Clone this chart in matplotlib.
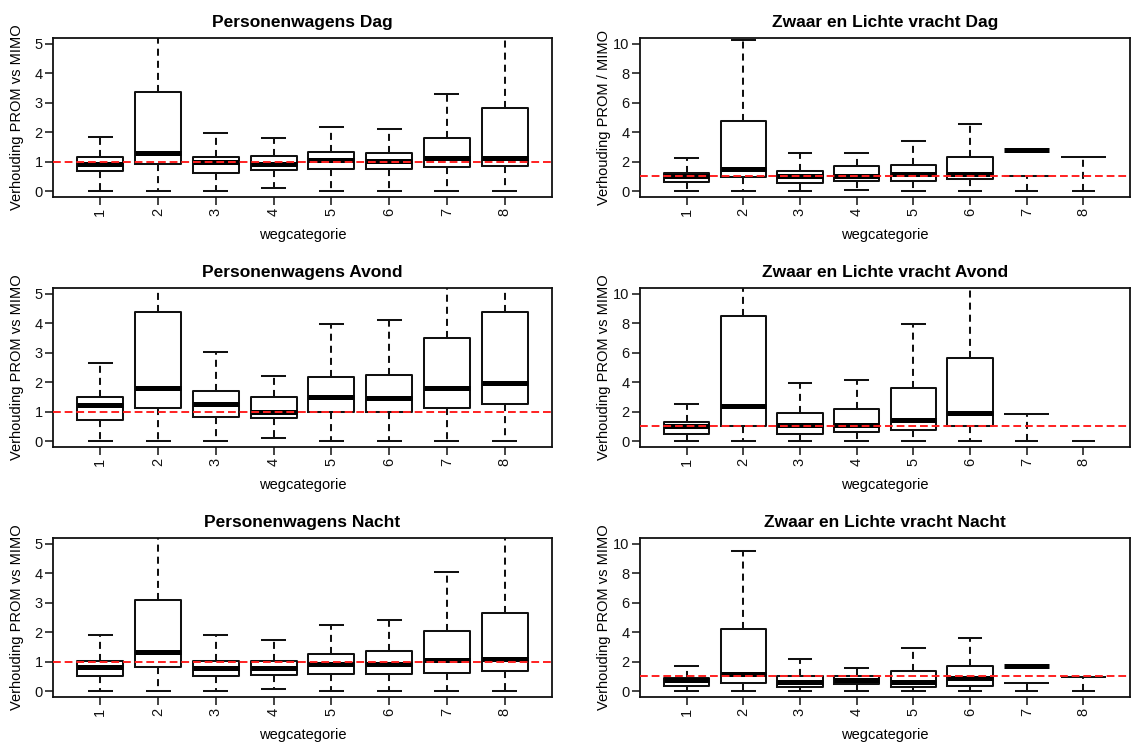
import numpy as np
import matplotlib
matplotlib.use("Agg")
import matplotlib.pyplot as plt

nan = np.nan
categories = ["1", "2", "3", "4", "5", "6", "7", "8"]

# ---- Personenwagens Dag ----
pw_dag_whislo = [0.00, 0.00, 0.00, 0.09, 0.00, 0.00, 0.00, 0.00]
pw_dag_q1     = [0.67, 0.93, 0.62, 0.71, 0.75, 0.75, 0.81, 0.84]
pw_dag_med    = [0.92, 1.29, 0.98, 0.92, 1.07, 1.01, 1.11, 1.13]
pw_dag_q3     = [1.16, 3.35, 1.16, 1.20, 1.34, 1.29, 1.79, 2.81]
pw_dag_whishi = [1.83, 6.50, 1.97, 1.79, 2.19, 2.10, 3.31, 6.00]

# ---- Zwaar en Lichte vracht Dag ----
zl_dag_whislo = [0.00, 0.00, 0.00, 0.09, 0.00, 0.00, 0.00, 0.00]
zl_dag_q1     = [0.61, 0.99, 0.54, 0.72, 0.72, 0.81, 1.04, 2.33]
zl_dag_med    = [1.01, 1.53, 1.01, 1.01, 1.19, 1.19, 2.78, nan]
zl_dag_q3     = [1.24, 4.76, 1.35, 1.71, 1.80, 2.34, nan, nan]
zl_dag_whishi = [2.25, 10.27, 2.61, 2.61, 3.39, 4.54, nan, nan]

# ---- Personenwagens Avond ----
pw_avond_whislo = [0.00, 0.00, 0.00, 0.09, 0.00, 0.00, 0.00, 0.00]
pw_avond_q1     = [0.71, 1.13, 0.82, 0.77, 1.00, 1.00, 1.13, 1.26]
pw_avond_med    = [1.22, 1.81, 1.27, 1.00, 1.50, 1.45, 1.81, 1.98]
pw_avond_q3     = [1.49, 4.37, 1.71, 1.49, 2.17, 2.24, 3.50, 4.37]
pw_avond_whishi = [2.66, 6.00, 3.03, 2.21, 3.97, 4.10, 6.00, 6.00]

# ---- Zwaar en Lichte vracht Avond ----
zl_avond_whislo = [0.00, 0.00, 0.00, 0.00, 0.00, 0.00, 0.00, 0.00]
zl_avond_q1     = [0.45, 1.00, 0.45, 0.63, 0.73, 1.00, 1.81, nan]
zl_avond_med    = [1.00, 2.36, 1.09, 1.09, 1.45, 1.90, nan, nan]
zl_avond_q3     = [1.27, 8.48, 1.90, 2.18, 3.61, 5.67, nan, nan]
zl_avond_whishi = [2.52, 12.0, 3.95, 4.15, 7.94, 12.0, nan, nan]

# ---- Personenwagens Nacht ----
pw_nacht_whislo = [0.00, 0.00, 0.00, 0.06, 0.00, 0.00, 0.00, 0.00]
pw_nacht_q1     = [0.50, 0.82, 0.50, 0.54, 0.58, 0.58, 0.62, 0.68]
pw_nacht_med    = [0.82, 1.32, 0.77, 0.77, 0.91, 0.91, 1.04, 1.09]
pw_nacht_q3     = [1.03, 3.11, 1.03, 1.03, 1.26, 1.35, 2.03, 2.66]
pw_nacht_whishi = [1.89, 6.00, 1.89, 1.72, 2.24, 2.43, 4.04, 6.00]

# ---- Zwaar en Lichte vracht Nacht ----
zl_nacht_whislo = [0.00, 0.00, 0.00, 0.00, 0.00, 0.00, 0.00, 0.00]
zl_nacht_q1     = [0.36, 0.54, 0.27, 0.45, 0.27, 0.36, 0.55, 0.93]
zl_nacht_med    = [0.73, 1.18, 0.63, 0.73, 0.63, 0.91, 1.73, nan]
zl_nacht_q3     = [0.91, 4.24, 1.00, 1.00, 1.36, 1.72, nan, nan]
zl_nacht_whishi = [1.72, 9.55, 2.18, 1.54, 2.90, 3.60, nan, nan]

panels = [
    ("Personenwagens Dag", "Verhouding PROM vs MIMO", 5,
     pw_dag_whislo, pw_dag_q1, pw_dag_med, pw_dag_q3, pw_dag_whishi),
    ("Zwaar en Lichte vracht Dag", "Verhouding PROM / MIMO", 10,
     zl_dag_whislo, zl_dag_q1, zl_dag_med, zl_dag_q3, zl_dag_whishi),
    ("Personenwagens Avond", "Verhouding PROM vs MIMO", 5,
     pw_avond_whislo, pw_avond_q1, pw_avond_med, pw_avond_q3, pw_avond_whishi),
    ("Zwaar en Lichte vracht Avond", "Verhouding PROM vs MIMO", 10,
     zl_avond_whislo, zl_avond_q1, zl_avond_med, zl_avond_q3, zl_avond_whishi),
    ("Personenwagens Nacht", "Verhouding PROM vs MIMO", 5,
     pw_nacht_whislo, pw_nacht_q1, pw_nacht_med, pw_nacht_q3, pw_nacht_whishi),
    ("Zwaar en Lichte vracht Nacht", "Verhouding PROM vs MIMO", 10,
     zl_nacht_whislo, zl_nacht_q1, zl_nacht_med, zl_nacht_q3, zl_nacht_whishi),
]

plt.rcParams['font.family'] = ['Liberation Sans', 'DejaVu Sans']

W, H = 1136, 742
fig = plt.figure(figsize=(W / 100, H / 100), dpi=100)

col_x = [(53, 552), (640, 1130)]
row_y = [(38, 197), (288, 447), (538, 697)]

LW = 1.45
dash_w = (3.5, 2.5)
box_w = 0.8
cap_w = 0.4
MED_LW = 3.6

for k, (title, ylab, ymax, wlo, q1, med, q3, whi) in enumerate(panels):
    r, c = divmod(k, 2)
    x0, x1 = col_x[c]
    y0, y1 = row_y[r]
    ax = fig.add_axes([x0 / W, 1 - y1 / H, (x1 - x0) / W, (y1 - y0) / H])

    pos = np.arange(1, len(categories) + 1)
    stats, spos = [], []
    flat = []
    for i in range(len(categories)):
        if np.isnan(q3[i]):
            flat.append(i)
            continue
        stats.append(dict(whislo=wlo[i], q1=q1[i], med=med[i], q3=q3[i],
                          whishi=whi[i], fliers=[]))
        spos.append(pos[i])

    ax.bxp(stats, positions=spos, widths=box_w, capwidths=cap_w,
           showfliers=False, manage_ticks=False,
           boxprops=dict(color='#111111', linewidth=LW),
           whiskerprops=dict(color='#111111', linewidth=LW,
                             linestyle=(0, dash_w)),
           capprops=dict(color='#111111', linewidth=LW),
           medianprops=dict(color='black', linewidth=MED_LW,
                            solid_capstyle='butt'))

    # groups whose box collapses to single lines
    for i in flat:
        p = pos[i]
        ax.hlines(wlo[i], p - cap_w / 2, p + cap_w / 2, color='#111111',
                  linewidth=LW)
        if not np.isnan(q1[i]):
            ax.vlines(p, wlo[i], q1[i], color='#111111', linewidth=LW,
                      linestyle=(0, dash_w))
            ax.hlines(q1[i], p - box_w / 2, p + box_w / 2, color='#111111',
                      linewidth=LW)
        if not np.isnan(med[i]):
            ax.hlines(med[i], p - box_w / 2, p + box_w / 2, color='black',
                      linewidth=MED_LW)

    ax.axhline(1, color='#ff2020', linewidth=1.4, linestyle=(0, (4, 2)),
               zorder=5)

    ax.set_xlim(0.18, 8.82)
    ax.set_ylim(-0.04 * ymax, 1.04 * ymax)
    ax.set_xticks(pos)
    ax.set_xticklabels(categories, rotation=90)
    step = 1 if ymax == 5 else 2
    ax.set_yticks(np.arange(0, ymax + 0.01, step))
    ax.tick_params(axis='both', direction='out', length=5.5, width=1.1,
                   labelsize=10.5, pad=2, colors='#111111')
    for s in ax.spines.values():
        s.set_linewidth(1.3)
        s.set_color('#111111')
    ax.set_title(title, fontsize=12.5, fontweight='bold', pad=8)
    ax.set_xlabel("wegcategorie", fontsize=10.5)
    ax.xaxis.set_label_coords(0.5, -0.195)
    ax.set_ylabel(ylab, fontsize=10.5, va='center')
    ax.yaxis.set_label_coords(-36 / (x1 - x0), 0.5)

fig.savefig("out.png", dpi=100, facecolor='white')
